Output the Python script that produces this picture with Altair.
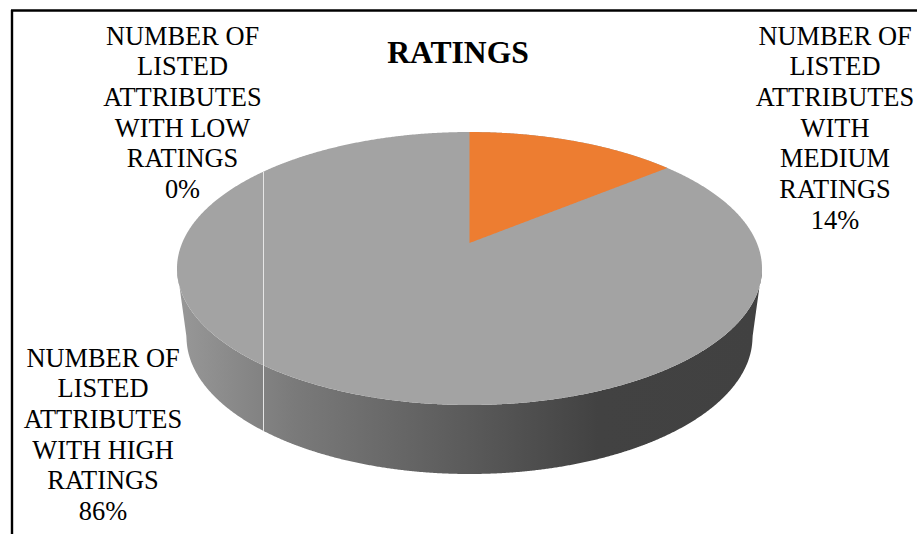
import altair as alt
import numpy as np
import pandas as pd

# Chart content
title_text = "RATINGS"
categories = [
    "NUMBER OF\nLISTED\nATTRIBUTES\nWITH\nMEDIUM\nRATINGS",
    "NUMBER OF\nLISTED\nATTRIBUTES\nWITH HIGH\nRATINGS",
    "NUMBER OF\nLISTED\nATTRIBUTES\nWITH LOW\nRATINGS",
]
shares = [14, 86, 0]

# Colours
slice_orange = "#ED7D31"
slice_grey = "#A3A3A3"
side_stops = [(0.0, "#989898"), (0.2, "#7a7a7a"), (0.5, "#5a5a5a"), (0.72, "#424242"), (1.0, "#414141")]

W, H = 917, 534
serif = "Liberation Serif"

# Pie geometry: a tilted disc seen in perspective
cx = 469.5
top_cy, top_rx, top_ry = 268.5, 292.5, 136.5
bot_cy, bot_rx, bot_ry = 337.0, 283.0, 137.0
apex_y = 243.0
persp_k = 0.1868
persp_a = -86.3
persp_u = 287.3
zero_slice_x = 263.5


def project(theta):
    """Map a clockwise angle from 12 o'clock on the disc to screen coordinates."""
    u, v = np.sin(theta), np.cos(theta)
    w = 1 + persp_k * v
    return cx + persp_u * u / w, (persp_a * v + apex_y) / w


def ellipse_half(x, cy, rx, ry, sign):
    return cy + sign * ry * np.sqrt(np.clip(1 - ((x - cx) / rx) ** 2, 0, 1))


xs = cx - top_rx * np.cos(np.linspace(0, np.pi, 721))

# Top surface of the whole disc
top_df = pd.DataFrame({
    "x": xs,
    "y": ellipse_half(xs, top_cy, top_rx, top_ry, -1),
    "y2": ellipse_half(xs, top_cy, top_rx, top_ry, 1),
})

# Side wall, from the disc's front rim to the rim of the lower disc
dist = np.abs(xs - cx)
rim = ellipse_half(xs, bot_cy, bot_rx, bot_ry, 1)
tangent = top_cy + (top_rx - dist) / (top_rx - bot_rx) * (bot_cy - top_cy)
side_df = pd.DataFrame({
    "x": xs,
    "y": top_df["y2"],
    "y2": np.where(dist > bot_rx, tangent, rim),
})

# Medium-ratings wedge, swept clockwise from 12 o'clock by its share
sweep = np.linspace(0, shares[0] / sum(shares) * 2 * np.pi, 181)
wx, wy = project(sweep)
wedge_df = pd.DataFrame({
    "x": wx,
    "y": wy,
    "y2": apex_y + (wy[-1] - apex_y) * (wx - cx) / (wx[-1] - cx),
})

# Hairline left by the empty low-ratings slice
line_df = pd.DataFrame({
    "x": [zero_slice_x],
    "y": ellipse_half(np.array([zero_slice_x]), top_cy, top_rx, top_ry, -1),
    "y2": ellipse_half(np.array([zero_slice_x]), bot_cy, bot_rx, bot_ry, 1),
})

x_enc = alt.X("x:Q", scale=alt.Scale(domain=[0, W], range=[0, W]), axis=None)
y_enc = alt.Y("y:Q", scale=alt.Scale(domain=[0, H], range=[0, H]), axis=None)
y2_enc = alt.Y2("y2:Q")


def surface(df, fill):
    return alt.Chart(df).mark_area(color=fill, opacity=1, interpolate="linear").encode(
        x=x_enc, y=y_enc, y2=y2_enc
    )


side_fill = alt.Gradient(
    gradient="linear",
    stops=[alt.GradientStop(color=c, offset=o) for o, c in side_stops],
    x1=0, x2=1, y1=0, y2=0,
)

hairline = alt.Chart(line_df).mark_rule(color="#e6e6e6", strokeWidth=1).encode(
    x=x_enc, y=y_enc, y2=y2_enc
)


def caption(text, x, y, size, bold=False, line_height=30.7):
    return alt.Chart(pd.DataFrame({"t": [text]})).mark_text(
        font=serif,
        fontSize=size,
        fontWeight="bold" if bold else "normal",
        color="#000000",
        align="center",
        baseline="top",
        lineBreak="\n",
        lineHeight=line_height,
    ).encode(text="t:N", x=alt.value(x), y=alt.value(y))


label_size = 26.4
labels = [f"{name}\n{share}%" for name, share in zip(categories, shares)]

# Frame along the top and left edges
frame_top = alt.Chart(pd.DataFrame({"a": [0]})).mark_rule(color="#000000", strokeWidth=2.4).encode(
    x=alt.value(11), x2=alt.value(W), y=alt.value(10.5)
)
frame_left = alt.Chart(pd.DataFrame({"a": [0]})).mark_rule(color="#000000", strokeWidth=2.4).encode(
    x=alt.value(12), y=alt.value(10), y2=alt.value(H)
)

chart = alt.layer(
    frame_top,
    frame_left,
    surface(side_df, side_fill),
    surface(top_df, slice_grey),
    surface(wedge_df, slice_orange),
    hairline,
    caption(title_text, 458, 38, 31.6, bold=True),
    caption(labels[0], 835, 23.6, label_size),
    caption(labels[1], 103, 345.6, label_size),
    caption(labels[2], 182.5, 23.6, label_size),
).properties(
    width=W,
    height=H,
    padding=0,
    autosize=alt.AutoSizeParams(type="none"),
    background="#ffffff",
).configure_view(stroke=None)

chart.save("out.html", embed_options={"renderer": "svg", "actions": False})
